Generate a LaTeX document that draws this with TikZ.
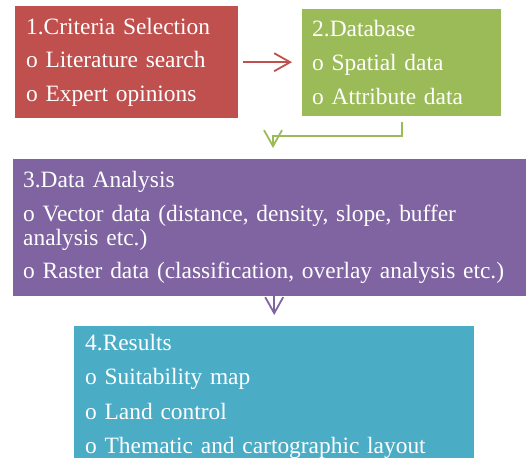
\documentclass[tikz,border=0pt]{standalone}
\usepackage{fontspec}
\setmainfont{Liberation Serif}
\usetikzlibrary{arrows.meta}
\definecolor{critred}{HTML}{C0504D}
\definecolor{dbgreen}{HTML}{9BBB59}
\definecolor{anpurple}{HTML}{8064A2}
\definecolor{resteal}{HTML}{4BACC6}
\begin{document}
\begin{tikzpicture}[x=1bp,y=-1bp,
	stage/.style={anchor=north west, inner ysep=0pt, inner xsep=11bp, align=left, text=white,
		font=\fontsize{23.4bp}{33.8bp}\selectfont},
	flow/.style={line width=1.8bp, -{Straight Barb[length=16bp,width=18bp,line width=1.8bp]}}]
		\useasboundingbox (0,0) rectangle (526,458);
		\clip (0,0) rectangle (526,458);
		%\draw [help lines, step=50] (0,0) grid (526,458);
		\node[stage, fill=critred, text width=201bp, minimum height=112bp] (crit) at (15,6)
			{1.Criteria Selection\\o Literature search\\o Expert opinions};
		\node[stage, fill=dbgreen, inner xsep=10bp, text width=179bp, minimum height=107bp] (db) at (302,9)
			{2.Database\\o Spatial data\\o Attribute data};
		\node[stage, fill=anpurple, inner xsep=10bp, text width=494bp, minimum height=137bp,
			font=\fontsize{23.4bp}{24bp}\selectfont] (anal) at (13,159)
			{3.Data Analysis\\[10bp]o Vector data (distance, density, slope, buffer\\analysis etc.)\\[9bp]o Raster data (classification, overlay analysis etc.)};
		\node[stage, fill=resteal, text width=378bp, minimum height=140bp,
			font=\fontsize{23.4bp}{34.5bp}\selectfont] (res) at (74,326)
			{4.Results\\o Suitability map\\o Land control\\o Thematic and cartographic layout};
		\coordinate (bend) at (273,136);
		\draw[flow, critred, shorten <=5bp, shorten >=10bp] (crit.east) -- (crit.east -| db.west);
		\draw[flow, dbgreen, shorten <=6bp, shorten >=11bp] (db.south) |- (bend) -- (bend |- anal.north);
		\draw[flow, anpurple, shorten >=11bp] (anal.south -| res.north) -- (res.north);
\end{tikzpicture}
\end{document}
